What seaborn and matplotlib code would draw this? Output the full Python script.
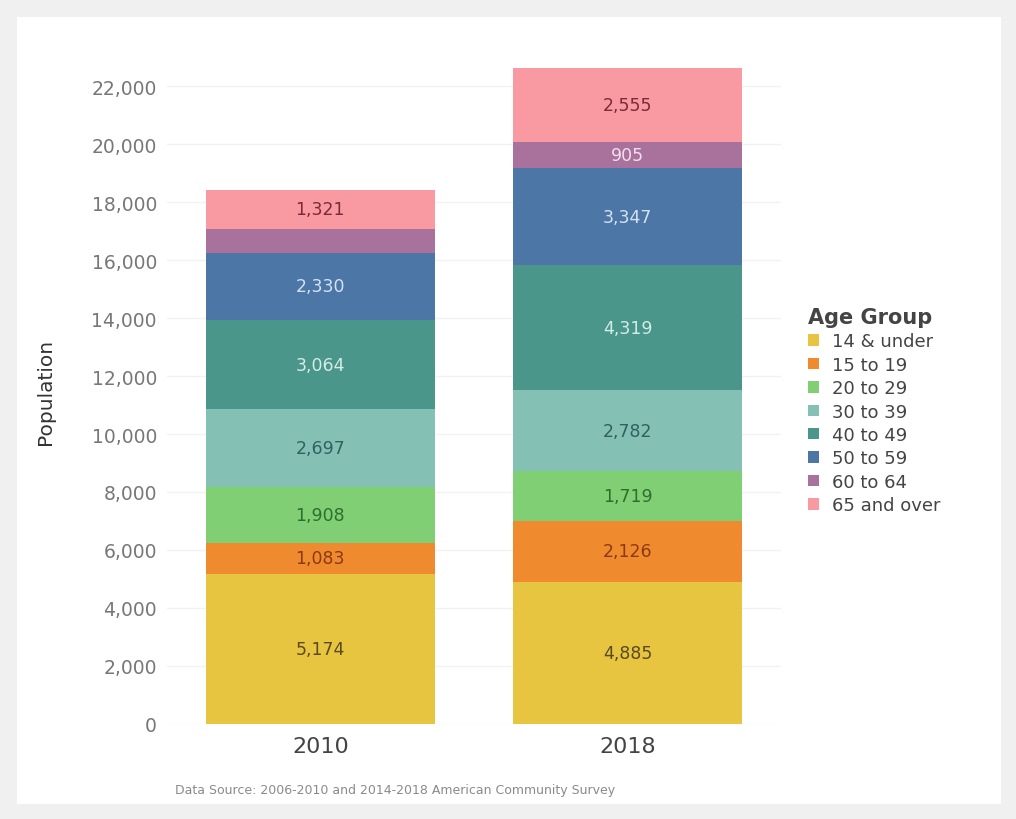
import pandas as pd
import matplotlib.pyplot as plt
import seaborn as sns
from matplotlib.patches import Rectangle, Patch

years = ['2010', '2018']
age_groups = ['14 & under', '15 to 19', '20 to 29', '30 to 39',
              '40 to 49', '50 to 59', '60 to 64', '65 and over']
pop_2010 = [5174, 1083, 1908, 2697, 3064, 2330, 830, 1321]
pop_2018 = [4885, 2126, 1719, 2782, 4319, 3347, 905, 2555]
# 2010 "60 to 64" is not labelled in the original
show_2010 = [True, True, True, True, True, True, False, True]
show_2018 = [True] * 8

colors = ['#e8c540', '#f08a2e', '#80cf74', '#85c0b5',
          '#4a968a', '#4b76a6', '#a8729d', '#f99aa2']
text_colors = ['#5a4a22', '#8a3a12', '#2d6e2d', '#2f625c',
               '#d5ece6', '#d2e2f4', '#f3ddee', '#7a2b33']

df = pd.DataFrame({'2010': pop_2010, '2018': pop_2018}, index=age_groups)
cum = df.cumsum()

sns.set_style('white')
plt.rcParams['font.family'] = ['DejaVu Sans']

fig = plt.figure(figsize=(10.16, 8.2), dpi=100)
fig.patch.set_facecolor('#f0f0f0')
fig.patches.append(Rectangle((17 / 1016, 15 / 820), 984 / 1016, 787 / 820,
                             transform=fig.transFigure, facecolor='white',
                             edgecolor='none', zorder=-10))
ax = fig.add_axes([0.164, 0.116, 0.605, 0.813])
ax.set_facecolor('none')

# stacked bars: draw cumulative totals from the top layer down
for i in range(len(age_groups) - 1, -1, -1):
    layer = pd.DataFrame({'year': years, 'total': cum.iloc[i].values})
    sns.barplot(data=layer, x='year', y='total', color=colors[i],
                width=0.745, saturation=1, linewidth=0, edgecolor='none',
                ax=ax, zorder=2)

for j, year in enumerate(years):
    show = show_2010 if year == '2010' else show_2018
    for i, grp in enumerate(age_groups):
        if not show[i]:
            continue
        val = df.loc[grp, year]
        mid = cum.loc[grp, year] - val / 2
        ax.text(j, mid, f'{val:,}', ha='center', va='center',
                fontsize=12.5, color=text_colors[i], zorder=3)

ax.set_xlim(-0.5, 1.5)
ax.set_ylim(0, 23000)
ax.set_yticks(range(0, 22001, 2000))
ax.set_yticklabels([f'{v:,}' for v in range(0, 22001, 2000)])
ax.yaxis.grid(True, color='#f2f2f2', linewidth=1, zorder=0)
ax.set_axisbelow(True)
for s in ax.spines.values():
    s.set_visible(False)
ax.tick_params(axis='y', labelsize=13.5, labelcolor='#777777', length=0, pad=7)
ax.tick_params(axis='x', labelsize=16, labelcolor='#444444', length=0, pad=9)
ax.set_xlabel('')
ax.set_ylabel('Population', fontsize=14.5, color='#333333', labelpad=26)

handles = [Patch(facecolor=c, edgecolor='none') for c in colors]
leg = fig.legend(handles, age_groups, title='Age Group', loc='upper left',
                 bbox_to_anchor=(808 / 1016, 1 - 308 / 820), frameon=False,
                 fontsize=13, title_fontsize=15, handlelength=0.6,
                 handleheight=0.6, handletextpad=0.75, labelspacing=0.3,
                 borderaxespad=0, borderpad=0)
leg._legend_box.align = 'left'
for t in leg.get_texts():
    t.set_color('#444444')
leg.get_title().set_color('#444444')
leg.get_title().set_fontweight('bold')

fig.text(175 / 1016, 1 - 791 / 820,
         'Data Source: 2006-2010 and 2014-2018 American Community Survey',
         fontsize=9, color='#8a8a8a', va='center')

fig.savefig('out.png', dpi=100, facecolor=fig.get_facecolor())
